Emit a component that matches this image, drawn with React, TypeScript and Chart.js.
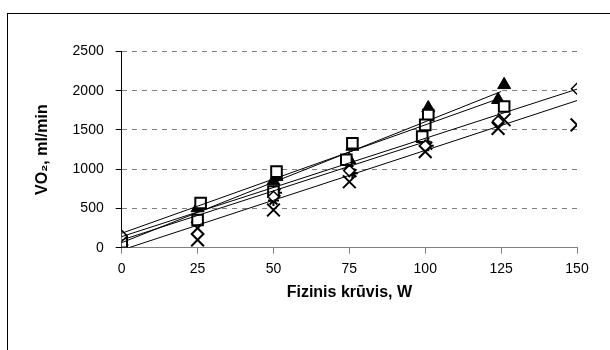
import React, { useEffect, useRef } from "react";
import { Chart, registerables } from "chart.js";

Chart.register(...registerables);

// Data (W = load in watts, V = VO2 ml/min)
const diamondW = [0, 50, 75, 100, 124, 150];
const diamondV = [150, 650, 980, 1300, 1610, 2025];

const squareW = [0, 26, 25, 51, 50, 76, 74, 101, 100, 99, 126];
const squareV = [70, 570, 353, 970, 715, 1330, 1120, 1690, 1565, 1415, 1800];

const triangleW = [0, 25, 51, 50, 76, 75, 101, 99, 126, 124];
const triangleV = [80, 506, 905, 850, 1290, 1120, 1780, 1400, 2075, 1885];

const crossW = [25, 25, 50, 75, 100, 124, 126, 150];
const crossV = [250, 100, 480, 840, 1225, 1520, 1630, 1565];

const starW = [0, 50, 51, 75, 76, 100, 101];
const starV = [100, 600, 700, 1000, 950, 1350, 1300];

// Linear trendlines (start / end values)
const diamondTrendW = [0, 150];
const diamondTrendV = [141, 2020];
const squareTrendW = [0, 125];
const squareTrendV = [184, 1910];
const triangleTrendW = [0, 125];
const triangleTrendV = [64, 1990];
const crossTrendW = [0, 150];
const crossTrendV = [-30, 1875];
const starTrendW = [0, 100];
const starTrendV = [98, 1350];

const xTicks = [0, 25, 50, 75, 100, 125, 150];
const yTicks = [0, 500, 1000, 1500, 2000, 2500];

const xTitle = "Fizinis krūvis, W";
const yTitle = "VO₂, ml/min";

const toPts = (w: number[], v: number[]) => w.map((x, i) => ({ x, y: v[i] }));

const FONT = "'Liberation Sans', Arial, sans-serif";

export default function App() {
  const ref = useRef<HTMLCanvasElement | null>(null);

  useEffect(() => {
    document.body.style.margin = "0";
    const canvas = ref.current;
    if (!canvas) return;

    const framePlugin = {
      id: "frame",
      beforeDraw(chart: any) {
        const ctx = chart.ctx;
        ctx.save();
        ctx.fillStyle = "#fff";
        ctx.fillRect(0, 0, chart.width, chart.height);
        ctx.strokeStyle = "#000";
        ctx.lineWidth = 1;
        ctx.strokeRect(7.5, 13.5, 620, 345);
        ctx.restore();
      },
    };

    const trend = (w: number[], v: number[]) => ({
      data: toPts(w, v),
      showLine: true,
      borderColor: "#000",
      borderWidth: 1,
      pointRadius: 0,
      order: 0,
    });

    const marker = (w: number[], v: number[], style: string, r: number, fill: string, bw: number) => ({
      data: toPts(w, v),
      showLine: false,
      pointStyle: style,
      pointRadius: r,
      pointBackgroundColor: fill,
      pointBorderColor: "#000",
      pointBorderWidth: bw,
      order: 1,
    });

    const chart = new Chart(canvas, {
      type: "scatter",
      data: {
        datasets: [
          trend(diamondTrendW, diamondTrendV),
          trend(squareTrendW, squareTrendV),
          trend(triangleTrendW, triangleTrendV),
          trend(crossTrendW, crossTrendV),
          trend(starTrendW, starTrendV),
          marker(diamondW, diamondV, "rectRot", 5.5, "#fff", 1.5),
          marker(squareW, squareV, "rect", 7.5, "#fff", 2),
          marker(triangleW, triangleV, "triangle", 7.5, "#000", 1),
          marker(crossW, crossV, "crossRot", 9, "#000", 2),
          marker(starW, starV, "star", 5.5, "#000", 2),
        ] as any,
      },
      options: {
        animation: false,
        responsive: false,
        events: [],
        layout: { padding: { left: 0, right: 33, top: 51.5, bottom: 0 } },
        plugins: { legend: { display: false }, tooltip: { enabled: false } },
        scales: {
          x: {
            type: "linear",
            min: 0,
            max: 150,
            afterBuildTicks: (s: any) => {
              s.ticks = xTicks.map((value) => ({ value }));
            },
            afterFit: (s: any) => {
              s.height = 102.3;
            },
            ticks: {
              color: "#000",
              font: { family: FONT, size: 14 },
              padding: 7,
              maxRotation: 0,
              callback: (v: any) => String(v),
            },
            grid: {
              drawOnChartArea: false,
              drawTicks: true,
              tickLength: 6,
              tickColor: "#808080",
              color: "#808080",
            },
            border: { display: true, color: "#808080", width: 1 },
            title: {
              display: true,
              text: xTitle,
              color: "#000",
              font: { family: FONT, size: 16, weight: "bold" },
              padding: { top: 0, bottom: 47.5 },
            },
          },
          y: {
            type: "linear",
            min: 0,
            max: 2500,
            afterBuildTicks: (s: any) => {
              s.ticks = yTicks.map((value) => ({ value }));
            },
            afterFit: (s: any) => {
              s.width = 121.7;
            },
            ticks: {
              color: "#000",
              font: { family: FONT, size: 14 },
              padding: 12,
              callback: (v: any) => String(v),
            },
            grid: {
              drawOnChartArea: true,
              drawTicks: true,
              tickLength: 6,
              tickColor: "#000",
              color: "#808080",
              lineWidth: 1,
            },
            border: { display: true, color: "#000", width: 1, dash: [5, 5] },
            title: {
              display: true,
              text: yTitle,
              color: "#000",
              font: { family: FONT, size: 16, weight: "bold" },
              padding: { top: 32.5, bottom: 0 },
            },
          },
        },
      } as any,
      plugins: [framePlugin],
    });

    return () => chart.destroy();
  }, []);

  return (
    <canvas
      ref={ref}
      width={610}
      height={350}
      style={{ display: "block", width: 610, height: 350 }}
    />
  );
}
